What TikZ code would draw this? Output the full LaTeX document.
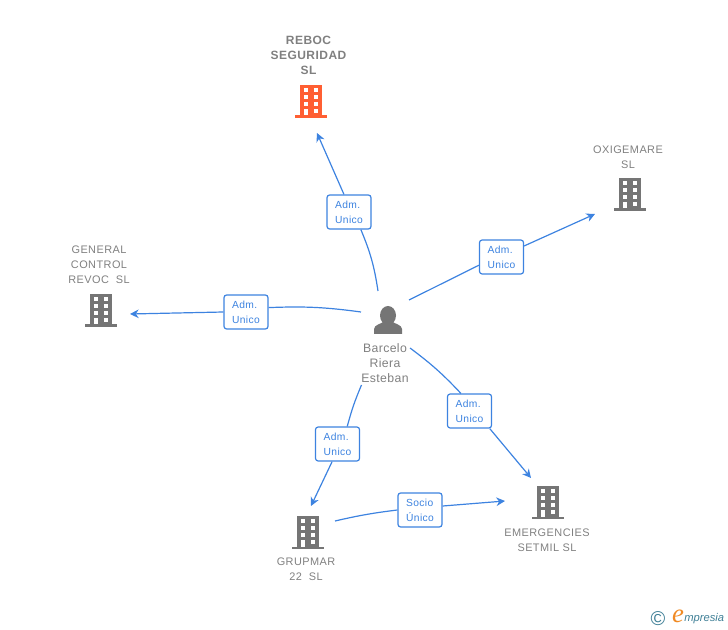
\documentclass[tikz,border=0pt]{standalone}
\usepackage{fontspec}
\setmainfont{Liberation Sans}
\usetikzlibrary{arrows.meta}

\definecolor{linkblue}{HTML}{3D83E0}
\definecolor{iconorange}{HTML}{FF5F33}
\definecolor{icongray}{HTML}{757575}
\definecolor{namegray}{HTML}{808080}
\definecolor{logoteal}{HTML}{3F7F96}
\definecolor{logoorange}{HTML}{F08A24}

\tikzset{
    link/.style={draw=linkblue, line width=0.9pt},
    arrowlink/.style={link, -{Stealth[length=6.5pt,width=6.5pt]}},
    rolebox/.style={draw=linkblue, line width=0.9pt, fill=white, rounded corners=2pt,
        minimum width=33pt, minimum height=25.5pt, inner sep=0pt, align=left,
        text=linkblue, font=\fontsize{7.7}{11.2}\selectfont\addfontfeature{LetterSpace=4}},
    entityname/.style={align=center, text=namegray, inner sep=0pt,
        font=\fontsize{8.2}{11.2}\selectfont\addfontfeature{LetterSpace=4}},
    building/.pic={
        \fill[pic actions] (-11,-2) rectangle (11,-33);
        \fill[pic actions] (-16,0) rectangle (16,-2.5);
        \foreach \col in {-5,5} \foreach \row in {-28,-21,-14} {
            \fill[white] (\col-2.2,\row-2) rectangle (\col+2.2,\row+2);
        }
        \fill[white] (2.8,-9) rectangle (7.2,-5);
        \fill[white] (-7.2,-9) rectangle (-2.8,-2.5);
    },
}

\begin{document}
\begin{tikzpicture}[x=0.75pt, y=-0.75pt]
\useasboundingbox (0,0) rectangle (728,630);

% companies
\pic[fill=iconorange] at (311,118) {building};
\pic[fill=icongray] at (630,211) {building};
\pic[fill=icongray] at (101,327) {building};
\pic[fill=icongray] at (548,519) {building};
\pic[fill=icongray] at (308,549) {building};

\node[entityname, font=\fontsize{9}{11.2}\selectfont\bfseries\addfontfeature{LetterSpace=4}] (reboc) at (308.5,55) {REBOC\\SEGURIDAD\\SL};
\node[entityname] (oxigemare) at (628,157) {OXIGEMARE\\SL};
\node[entityname] (general) at (99,264.5) {GENERAL\\CONTROL\\REVOC\ \ SL};
\node[entityname] (emergencies) at (547,540) {EMERGENCIES\\SETMIL SL};
\node[entityname] (grupmar) at (306,569) {GRUPMAR\\22\ \ SL};

% person
\fill[icongray] (388,315.5) ellipse (8 and 9.5);
\fill[icongray] (374,334) -- (374,329) .. controls (374.5,324.5) and (381,324) .. (384,321.5)
    -- (392,321.5) .. controls (395,324) and (401.5,324.5) .. (402,329) -- (402,334) -- cycle;
\node[entityname, font=\fontsize{9.2}{11.2}\selectfont\addfontfeature{LetterSpace=3}] (barcelo) at (385,363) {Barcelo\\Riera\\Esteban};

% free ends of the links
\coordinate (outreboc) at (378,291);
\coordinate (outoxi) at (409,300);
\coordinate (outgeneral) at (361,312);
\coordinate (outemerg) at (410,348);
\coordinate (outgrup) at (361.5,385);
\coordinate (outsocio) at (335,521);
\coordinate (inreboc) at (317,133);
\coordinate (inoxi) at (595,214);
\coordinate (ingeneral) at (130,314);
\coordinate (inemerg) at (531,478);
\coordinate (ingrup) at (311,506);
\coordinate (insocio) at (505,501);

% role boxes
\node[rolebox] (admreboc) at (349,212) {Adm.\\Unico};
\node[rolebox] (admoxi) at (501.5,257) {Adm.\\Unico};
\node[rolebox] (admgeneral) at (246,312) {Adm.\\Unico};
\node[rolebox] (admemerg) at (469.5,411) {Adm.\\Unico};
\node[rolebox] (admgrup) at (337.5,444) {Adm.\\Unico};
\node[rolebox] (socio) at (420,510) {Socio\\Único};

% links
\draw[link] (outreboc) to[bend right=7] (admreboc.-56);
\draw[arrowlink] (admreboc.106) -- (inreboc);
\draw[link] (outoxi) -- (admoxi.200);
\draw[arrowlink] (admoxi.26) -- (inoxi);
\draw[link] (outgeneral) to[bend right=5] (admgeneral.11);
\draw[arrowlink] (admgeneral.west) -- (ingeneral);
\draw[link] (outemerg) to[bend left=5] (admemerg.116);
\draw[arrowlink] (admemerg.-41) -- (inemerg);
\draw[link] (outgrup) to[bend right=4] (admgrup.61);
\draw[arrowlink] (admgrup.-107) -- (ingrup);
\draw[link] (outsocio) to[bend left=3] (socio.west);
\draw[arrowlink] (socio.10) -- (insocio);

% logo
\node[text=logoteal, font=\fontsize{15}{15}\selectfont, inner sep=0pt] (copyr) at (658,619) {©};
\node[text=logoorange, font=\fontsize{20}{20}\fontspec{Liberation Serif}\itshape, inner sep=0pt] (logoe) at (678,616) {e};
\node[text=logoteal, font=\fontsize{8.4}{9}\selectfont\itshape, inner sep=0pt, anchor=west] (logotext) at (684,619) {mpresia};
\end{tikzpicture}
\end{document}
